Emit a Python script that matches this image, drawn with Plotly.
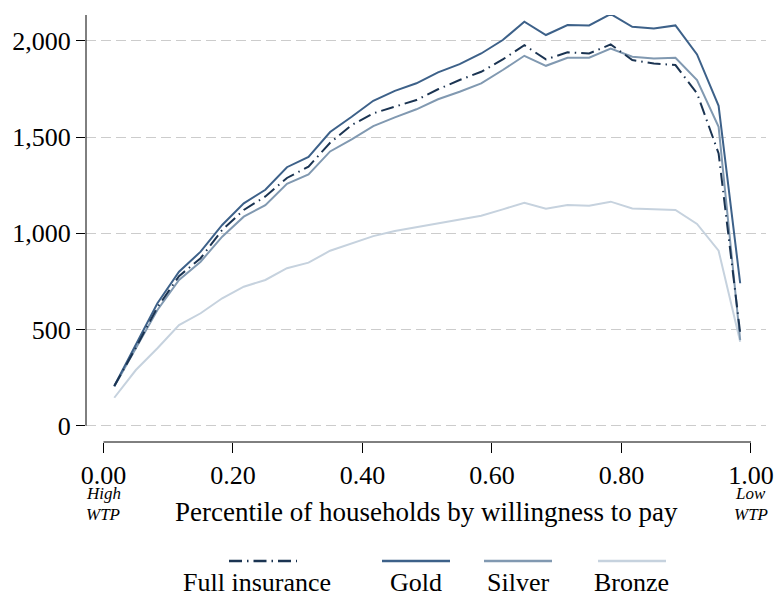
import plotly.graph_objects as go

# ---- data ----
pct = [(i + 0.5) / 30 for i in range(30)]
full_ins = [206, 405, 615, 777, 870, 1017, 1121, 1191, 1287, 1346, 1470, 1562, 1623, 1657, 1692,
            1748, 1796, 1839, 1903, 1977, 1903, 1940, 1934, 1981, 1900, 1882, 1874, 1727, 1415, 481]
gold = [206, 419, 636, 800, 904, 1043, 1155, 1226, 1343, 1396, 1526, 1605, 1688, 1740, 1779,
        1836, 1879, 1934, 2004, 2099, 2030, 2082, 2080, 2139, 2073, 2064, 2080, 1929, 1662, 740]
silver = [203, 400, 601, 757, 852, 982, 1086, 1146, 1257, 1306, 1425, 1488, 1557, 1602, 1644,
          1696, 1735, 1779, 1848, 1922, 1870, 1912, 1912, 1960, 1917, 1908, 1912, 1796, 1553, 445]
bronze = [145, 289, 402, 523, 584, 662, 722, 757, 818, 847, 909, 947, 985, 1011, 1031,
          1051, 1069, 1091, 1124, 1158, 1127, 1146, 1143, 1164, 1129, 1124, 1121, 1048, 909, 436]
x_ticks = [0, 0.2, 0.4, 0.6, 0.8, 1.0]
y_ticks = [0, 500, 1000, 1500, 2000]
names = ["Full insurance", "Gold", "Silver", "Bronze"]

# ---- styles ----
C_FULL = "#1b3452"
C_GOLD = "#3d6189"
C_SILVER = "#8199b1"
C_BRONZE = "#c6d2de"
FULL_DASH = "13px,5px,1.5px,5px"
FONT = "Liberation Serif"
X_RANGE = [-0.027, 1.0232]
Y_RANGE = [-85, 2134]
PL, PR, PT, PB = 86, 766, 15, 442   # plot area in pixels
W, H = 774, 596
PW, PH = PR - PL, PB - PT


def px_x(p):
    return (p - PL) / PW


def px_y(p):
    return (PB - p) / PH


fig = go.Figure()
series = [(names[3], bronze, C_BRONZE, "solid"),
          (names[2], silver, C_SILVER, "solid"),
          (names[1], gold, C_GOLD, "solid"),
          (names[0], full_ins, C_FULL, FULL_DASH)]
for nm, vals, col, dash in series:
    fig.add_trace(go.Scatter(x=pct, y=vals, mode="lines", name=nm,
                             line=dict(color=col, width=2, dash=dash),
                             showlegend=False))

fig.update_layout(
    width=W, height=H, autosize=False,
    margin=dict(l=PL, r=W - PR, t=PT, b=H - PB, pad=0),
    paper_bgcolor="white", plot_bgcolor="white",
    font=dict(family=FONT, size=26, color="black"),
    showlegend=False,
)
fig.update_xaxes(range=X_RANGE, tickvals=x_ticks, tickformat=".2f", automargin=False,
                 showgrid=False, zeroline=False, showline=False,
                 ticks="outside", ticklen=10, tickcolor="black", tickwidth=1)
fig.update_yaxes(range=Y_RANGE, tickvals=y_ticks, tickformat=",d", automargin=False,
                 showgrid=True, gridcolor="#cccccc", gridwidth=1, griddash="10px,5px",
                 zeroline=False, showline=False,
                 ticks="outside", ticklen=9, tickcolor="black", tickwidth=1)

# axis lines (Stata-style: x axis spans 0..1, y axis spans 0..top)
fig.add_shape(type="line", xref="x", yref="paper", x0=x_ticks[0], x1=x_ticks[-1], y0=0, y1=0,
              line=dict(color="black", width=1))
fig.add_shape(type="line", xref="paper", yref="y", x0=0, x1=0, y0=y_ticks[0], y1=Y_RANGE[1],
              line=dict(color="black", width=1))

# x-axis title and end notes
fig.add_annotation(text="Percentile of households by willingness to pay", xref="paper", yref="paper",
                   x=px_x(426), y=px_y(512), showarrow=False, xanchor="center", yanchor="middle",
                   font=dict(size=27))
for xv, word in [(x_ticks[0], "High"), (x_ticks[-1], "Low")]:
    fig.add_annotation(text="<i>%s</i>" % word, xref="x", yref="paper", x=xv, y=px_y(494),
                       showarrow=False, xanchor="center", yanchor="middle", font=dict(size=17))
    fig.add_annotation(text="<i>WTP</i>", xref="x", yref="paper", x=xv, y=px_y(514),
                       showarrow=False, xanchor="center", yanchor="middle", font=dict(size=17))

# legend: keys above labels
leg_keys = [(229, 297, C_FULL, FULL_DASH, 257), (382, 450, C_GOLD, "solid", 416),
            (484, 552, C_SILVER, "solid", 518), (598, 666, C_BRONZE, "solid", 631)]
for (kx0, kx1, col, dash, lx), nm in zip(leg_keys, names):
    fig.add_shape(type="line", xref="paper", yref="paper",
                  x0=px_x(kx0), x1=px_x(kx1), y0=px_y(561), y1=px_y(561),
                  line=dict(color=col, width=2.5, dash=dash))
    fig.add_annotation(text=nm, xref="paper", yref="paper", x=px_x(lx), y=px_y(582),
                       showarrow=False, xanchor="center", yanchor="middle",
                       font=dict(size=26))

fig.write_html("out.html", config={"displayModeBar": False},
               post_script="document.body.style.margin='0';")
